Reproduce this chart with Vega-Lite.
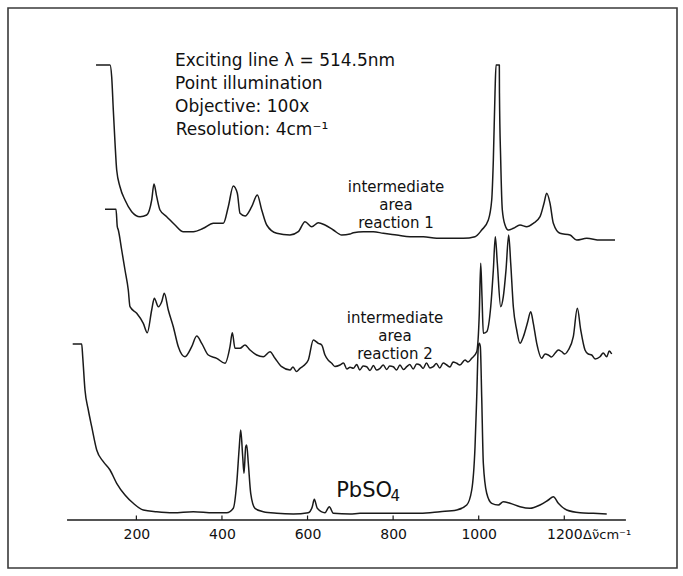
{
  "$schema": "https://vega.github.io/schema/vega-lite/v6.json",
  "width": 669,
  "height": 560,
  "autosize": {"type": "none"},
  "padding": {"left": 8, "top": 8, "right": 6, "bottom": 8},
  "background": "#ffffff",
  "config": {
    "view": {"stroke": "#3a3a3a", "strokeWidth": 1.6},
    "text": {"font": "DejaVu Sans", "color": "#111111"}
  },
  "datasets": {
    "spectra": [
      {"s":"r1","nu":105.7,"I":455},{"s":"r1","nu":138.4,"I":455},{"s":"r1","nu":142.3,"I":443.3},{"s":"r1","nu":146.1,"I":410},{"s":"r1","nu":150.1,"I":377},{"s":"r1","nu":154.0,"I":350},{"s":"r1","nu":161.7,"I":333.3},{"s":"r1","nu":173.4,"I":320},{"s":"r1","nu":189.1,"I":308.3},{"s":"r1","nu":208.5,"I":303.3},{"s":"r1","nu":224.1,"I":305},{"s":"r1","nu":235.8,"I":320},{"s":"r1","nu":241.2,"I":336},{"s":"r1","nu":247.5,"I":323.3},{"s":"r1","nu":255.2,"I":310},{"s":"r1","nu":270.9,"I":303.3},{"s":"r1","nu":290.3,"I":295},{"s":"r1","nu":309.7,"I":288.3},{"s":"r1","nu":333.0,"I":288.3},{"s":"r1","nu":356.4,"I":291.7},{"s":"r1","nu":379.8,"I":296.7},{"s":"r1","nu":403.2,"I":296.7},{"s":"r1","nu":414.8,"I":313.3},{"s":"r1","nu":426.5,"I":334},{"s":"r1","nu":435.9,"I":326.7},{"s":"r1","nu":442.2,"I":306.7},{"s":"r1","nu":453.9,"I":304},{"s":"r1","nu":469.5,"I":313.3},{"s":"r1","nu":482.6,"I":325},{"s":"r1","nu":492.9,"I":310},{"s":"r1","nu":504.6,"I":295},{"s":"r1","nu":528.0,"I":286.7},{"s":"r1","nu":559.0,"I":285},{"s":"r1","nu":578.4,"I":288.3},{"s":"r1","nu":594.1,"I":298.3},{"s":"r1","nu":609.7,"I":293.3},{"s":"r1","nu":625.2,"I":297.3},{"s":"r1","nu":640.8,"I":295},{"s":"r1","nu":660.2,"I":290},{"s":"r1","nu":679.8,"I":285},{"s":"r1","nu":699.3,"I":286},{"s":"r1","nu":707.0,"I":287.3},{"s":"r1","nu":730.3,"I":288.3},{"s":"r1","nu":753.7,"I":288.3},{"s":"r1","nu":777.1,"I":286.7},{"s":"r1","nu":808.4,"I":285},{"s":"r1","nu":839.5,"I":283.3},{"s":"r1","nu":870.6,"I":283.3},{"s":"r1","nu":901.9,"I":281.7},{"s":"r1","nu":933.0,"I":281.7},{"s":"r1","nu":964.0,"I":281.7},{"s":"r1","nu":991.4,"I":283.3},{"s":"r1","nu":1007.0,"I":290},{"s":"r1","nu":1022.5,"I":300},{"s":"r1","nu":1030.4,"I":320},{"s":"r1","nu":1034.2,"I":360},{"s":"r1","nu":1038.1,"I":427},{"s":"r1","nu":1040.5,"I":455},{"s":"r1","nu":1048.2,"I":455},{"s":"r1","nu":1048.5,"I":427},{"s":"r1","nu":1051.4,"I":360},{"s":"r1","nu":1055.2,"I":310},{"s":"r1","nu":1061.5,"I":295},{"s":"r1","nu":1069.2,"I":290},{"s":"r1","nu":1080.9,"I":291.7},{"s":"r1","nu":1096.5,"I":295},{"s":"r1","nu":1112.2,"I":293.3},{"s":"r1","nu":1127.6,"I":296.7},{"s":"r1","nu":1143.3,"I":303.3},{"s":"r1","nu":1152.6,"I":316.7},{"s":"r1","nu":1158.9,"I":326.7},{"s":"r1","nu":1166.7,"I":316.7},{"s":"r1","nu":1174.4,"I":296.7},{"s":"r1","nu":1190.0,"I":286.7},{"s":"r1","nu":1213.4,"I":285},{"s":"r1","nu":1229.0,"I":280},{"s":"r1","nu":1252.4,"I":281.7},{"s":"r1","nu":1283.5,"I":280},{"s":"r1","nu":1318.6,"I":280},

      {"s":"r2","nu":126.7,"I":310.7},{"s":"r2","nu":152.4,"I":310.7},{"s":"r2","nu":155.4,"I":293.3},{"s":"r2","nu":157.8,"I":290},{"s":"r2","nu":165.7,"I":270},{"s":"r2","nu":173.4,"I":250},{"s":"r2","nu":181.1,"I":230},{"s":"r2","nu":185.1,"I":213.3},{"s":"r2","nu":200.8,"I":206.7},{"s":"r2","nu":216.2,"I":196.7},{"s":"r2","nu":225.5,"I":187.3},{"s":"r2","nu":235.8,"I":210},{"s":"r2","nu":241.9,"I":221.7},{"s":"r2","nu":251.3,"I":213.3},{"s":"r2","nu":259.2,"I":218.3},{"s":"r2","nu":265.3,"I":226.7},{"s":"r2","nu":274.6,"I":210},{"s":"r2","nu":286.3,"I":193.3},{"s":"r2","nu":298.0,"I":173.3},{"s":"r2","nu":313.6,"I":163.3},{"s":"r2","nu":329.3,"I":173.3},{"s":"r2","nu":341.0,"I":184},{"s":"r2","nu":352.7,"I":176.7},{"s":"r2","nu":368.1,"I":165},{"s":"r2","nu":387.7,"I":161.7},{"s":"r2","nu":407.1,"I":156.7},{"s":"r2","nu":418.8,"I":173.3},{"s":"r2","nu":424.2,"I":187.3},{"s":"r2","nu":430.5,"I":171.7},{"s":"r2","nu":442.2,"I":171.7},{"s":"r2","nu":453.9,"I":175},{"s":"r2","nu":465.6,"I":170},{"s":"r2","nu":481.2,"I":165},{"s":"r2","nu":496.6,"I":163.3},{"s":"r2","nu":512.3,"I":168.3},{"s":"r2","nu":524.0,"I":161.7},{"s":"r2","nu":539.6,"I":153.3},{"s":"r2","nu":559.0,"I":150},{"s":"r2","nu":566.0,"I":153},{"s":"r2","nu":574.0,"I":148.5},{"s":"r2","nu":582.4,"I":151.7},{"s":"r2","nu":590.0,"I":154},{"s":"r2","nu":601.8,"I":160},{"s":"r2","nu":613.5,"I":180},{"s":"r2","nu":625.2,"I":176.7},{"s":"r2","nu":633.1,"I":175},{"s":"r2","nu":640.8,"I":165},{"s":"r2","nu":648.0,"I":160},{"s":"r2","nu":656.5,"I":156.7},{"s":"r2","nu":664.0,"I":153.5},{"s":"r2","nu":675.9,"I":155},{"s":"r2","nu":684.0,"I":157},{"s":"r2","nu":692.0,"I":151},{"s":"r2","nu":699.3,"I":152.7},{"s":"r2","nu":707.0,"I":151.7},{"s":"r2","nu":715.0,"I":155.5},{"s":"r2","nu":722.0,"I":150},{"s":"r2","nu":730.0,"I":154},{"s":"r2","nu":738.3,"I":153.3},{"s":"r2","nu":746.0,"I":149.5},{"s":"r2","nu":754.0,"I":154.5},{"s":"r2","nu":761.0,"I":150},{"s":"r2","nu":769.4,"I":151.7},{"s":"r2","nu":777.0,"I":155},{"s":"r2","nu":785.0,"I":150.5},{"s":"r2","nu":792.0,"I":154},{"s":"r2","nu":800.4,"I":153.3},{"s":"r2","nu":808.0,"I":150},{"s":"r2","nu":816.0,"I":155},{"s":"r2","nu":824.0,"I":150.5},{"s":"r2","nu":831.8,"I":153.3},{"s":"r2","nu":839.0,"I":155.5},{"s":"r2","nu":847.0,"I":151},{"s":"r2","nu":855.0,"I":156},{"s":"r2","nu":862.8,"I":155},{"s":"r2","nu":870.0,"I":151.5},{"s":"r2","nu":878.0,"I":157},{"s":"r2","nu":886.0,"I":152},{"s":"r2","nu":893.9,"I":153.3},{"s":"r2","nu":901.0,"I":156.5},{"s":"r2","nu":909.0,"I":152},{"s":"r2","nu":917.0,"I":157},{"s":"r2","nu":925.2,"I":155},{"s":"r2","nu":933.0,"I":153},{"s":"r2","nu":940.0,"I":158},{"s":"r2","nu":948.6,"I":156.7},{"s":"r2","nu":956.0,"I":155},{"s":"r2","nu":968.0,"I":160},{"s":"r2","nu":975.0,"I":158},{"s":"r2","nu":983.7,"I":161.7},{"s":"r2","nu":995.4,"I":168.3},{"s":"r2","nu":1001.4,"I":206.7},{"s":"r2","nu":1004.7,"I":256.7},{"s":"r2","nu":1007.7,"I":223.3},{"s":"r2","nu":1010.8,"I":186.7},{"s":"r2","nu":1018.7,"I":188.3},{"s":"r2","nu":1028.1,"I":213.3},{"s":"r2","nu":1034.2,"I":250},{"s":"r2","nu":1038.8,"I":283.3},{"s":"r2","nu":1043.5,"I":256.7},{"s":"r2","nu":1051.4,"I":213.3},{"s":"r2","nu":1057.5,"I":223.3},{"s":"r2","nu":1063.8,"I":250},{"s":"r2","nu":1070.1,"I":285},{"s":"r2","nu":1074.8,"I":256.7},{"s":"r2","nu":1080.9,"I":213.3},{"s":"r2","nu":1088.8,"I":190},{"s":"r2","nu":1096.5,"I":176.7},{"s":"r2","nu":1104.3,"I":183.3},{"s":"r2","nu":1113.6,"I":196.7},{"s":"r2","nu":1121.6,"I":208.3},{"s":"r2","nu":1127.6,"I":196.7},{"s":"r2","nu":1135.6,"I":176.7},{"s":"r2","nu":1147.3,"I":161.7},{"s":"r2","nu":1155.0,"I":166},{"s":"r2","nu":1162.7,"I":165},{"s":"r2","nu":1170.0,"I":163},{"s":"r2","nu":1178.3,"I":166.7},{"s":"r2","nu":1186.0,"I":170},{"s":"r2","nu":1194.0,"I":168.3},{"s":"r2","nu":1201.0,"I":166},{"s":"r2","nu":1209.4,"I":170},{"s":"r2","nu":1221.1,"I":183.3},{"s":"r2","nu":1230.5,"I":211.7},{"s":"r2","nu":1238.4,"I":190},{"s":"r2","nu":1248.4,"I":170},{"s":"r2","nu":1256.0,"I":166},{"s":"r2","nu":1264.1,"I":165},{"s":"r2","nu":1272.0,"I":161},{"s":"r2","nu":1283.5,"I":163.3},{"s":"r2","nu":1291.0,"I":167},{"s":"r2","nu":1299.2,"I":163.3},{"s":"r2","nu":1305.0,"I":169},{"s":"r2","nu":1310.8,"I":166},

      {"s":"pb","nu":51.2,"I":176},{"s":"pb","nu":72.2,"I":176},{"s":"pb","nu":74.6,"I":163.3},{"s":"pb","nu":79.9,"I":130},{"s":"pb","nu":87.7,"I":110},{"s":"pb","nu":95.6,"I":93.3},{"s":"pb","nu":107.3,"I":70},{"s":"pb","nu":122.7,"I":58.3},{"s":"pb","nu":138.4,"I":50},{"s":"pb","nu":154.0,"I":36.7},{"s":"pb","nu":173.4,"I":25},{"s":"pb","nu":192.8,"I":16.7},{"s":"pb","nu":216.2,"I":10},{"s":"pb","nu":247.5,"I":8.3},{"s":"pb","nu":286.3,"I":7.3},{"s":"pb","nu":333.0,"I":8.3},{"s":"pb","nu":379.8,"I":7.3},{"s":"pb","nu":411.1,"I":7.3},{"s":"pb","nu":426.5,"I":11.7},{"s":"pb","nu":434.5,"I":36.7},{"s":"pb","nu":440.5,"I":73.3},{"s":"pb","nu":443.8,"I":90},{"s":"pb","nu":448.5,"I":63.3},{"s":"pb","nu":451.5,"I":46.7},{"s":"pb","nu":455.5,"I":73.3},{"s":"pb","nu":457.8,"I":75},{"s":"pb","nu":461.6,"I":56.7},{"s":"pb","nu":467.2,"I":26.7},{"s":"pb","nu":477.2,"I":11.7},{"s":"pb","nu":496.6,"I":8.3},{"s":"pb","nu":528.0,"I":6.7},{"s":"pb","nu":566.8,"I":6},{"s":"pb","nu":601.8,"I":7.3},{"s":"pb","nu":611.1,"I":13.3},{"s":"pb","nu":615.8,"I":20.7},{"s":"pb","nu":622.8,"I":11.7},{"s":"pb","nu":640.8,"I":7.3},{"s":"pb","nu":650.9,"I":13.3},{"s":"pb","nu":660.2,"I":6.7},{"s":"pb","nu":699.3,"I":6},{"s":"pb","nu":722.6,"I":6.7},{"s":"pb","nu":769.4,"I":6.7},{"s":"pb","nu":816.1,"I":6.7},{"s":"pb","nu":862.8,"I":6.7},{"s":"pb","nu":909.6,"I":8.3},{"s":"pb","nu":948.6,"I":10},{"s":"pb","nu":972.0,"I":15},{"s":"pb","nu":983.7,"I":30},{"s":"pb","nu":991.4,"I":73.3},{"s":"pb","nu":995.4,"I":123.3},{"s":"pb","nu":999.1,"I":173.3},{"s":"pb","nu":1001.4,"I":176.7},{"s":"pb","nu":1003.8,"I":173.3},{"s":"pb","nu":1007.0,"I":123.3},{"s":"pb","nu":1010.8,"I":56.7},{"s":"pb","nu":1018.7,"I":26.7},{"s":"pb","nu":1030.4,"I":16.7},{"s":"pb","nu":1045.8,"I":15},{"s":"pb","nu":1057.5,"I":18.3},{"s":"pb","nu":1073.2,"I":16.7},{"s":"pb","nu":1096.5,"I":13.3},{"s":"pb","nu":1119.9,"I":11.7},{"s":"pb","nu":1143.3,"I":15},{"s":"pb","nu":1162.7,"I":20},{"s":"pb","nu":1174.4,"I":23.3},{"s":"pb","nu":1186.1,"I":16.7},{"s":"pb","nu":1205.7,"I":10},{"s":"pb","nu":1236.8,"I":7.3},{"s":"pb","nu":1267.9,"I":6.7},{"s":"pb","nu":1299.2,"I":6}
    ],
    "baseline": [{"nu": 38, "nu2": 1344, "I": 0}],
    "ticks": [{"nu": 200}, {"nu": 400}, {"nu": 600}, {"nu": 800}, {"nu": 1000}, {"nu": 1200}],
    "notes": [
      {"text": "Exciting line λ = 514.5nm", "nu": 290.3, "I": 454.5},
      {"text": "Point illumination", "nu": 290.3, "I": 431},
      {"text": "Objective: 100x", "nu": 290.3, "I": 408.5},
      {"text": "Resolution: 4cm⁻¹", "nu": 292, "I": 385.5}
    ],
    "labels": [
      {"text": "intermediate\narea\nreaction 1", "nu": 806.7, "I": 328},
      {"text": "intermediate\narea\nreaction 2", "nu": 804.4, "I": 197}
    ],
    "compound": [{"text": "PbSO", "nu": 667, "I": 23}],
    "subscript": [{"text": "4", "nu": 794, "I": 19}],
    "unit": [{"text": "Δν̃cm⁻¹", "nu": 1244, "I": -19}]
  },
  "layer": [
    {
      "data": {"name": "spectra"},
      "mark": {"type": "line", "color": "#1a1a1a", "strokeWidth": 1.5, "strokeJoin": "round", "interpolate": "monotone"},
      "encoding": {
        "x": {"field": "nu", "type": "quantitative", "scale": {"domain": [-100, 1463.4], "nice": false, "zero": false},
              "axis": {"domain": false, "ticks": false, "grid": false, "values": [200, 400, 600, 800, 1000, 1200], "format": "d", "labelFont": "DejaVu Sans", "labelFontSize": 14, "labelColor": "#111111", "labelPadding": 7.5, "offset": -48, "title": null, "labelFlush": false, "labelOverlap": false}},
        "y": {"field": "I", "type": "quantitative", "scale": {"domain": [-48, 512], "nice": false, "zero": false}, "axis": null},
        "detail": {"field": "s", "type": "nominal"}
      }
    },
    {
      "data": {"name": "baseline"},
      "mark": {"type": "rule", "color": "#1a1a1a", "strokeWidth": 1.5},
      "encoding": {
        "x": {"field": "nu", "type": "quantitative", "scale": {"domain": [-100, 1463.4], "nice": false, "zero": false},
              "axis": {"domain": false, "ticks": false, "grid": false, "values": [200, 400, 600, 800, 1000, 1200], "format": "d", "labelFont": "DejaVu Sans", "labelFontSize": 14, "labelColor": "#111111", "labelPadding": 7.5, "offset": -48, "title": null, "labelFlush": false, "labelOverlap": false}},
        "x2": {"field": "nu2"},
        "y": {"field": "I", "type": "quantitative", "scale": {"domain": [-48, 512], "nice": false, "zero": false}, "axis": null}
      }
    },
    {
      "data": {"name": "ticks"},
      "mark": {"type": "rule", "color": "#1a1a1a", "strokeWidth": 1.2},
      "encoding": {
        "x": {"field": "nu", "type": "quantitative", "scale": {"domain": [-100, 1463.4], "nice": false, "zero": false},
              "axis": {"domain": false, "ticks": false, "grid": false, "values": [200, 400, 600, 800, 1000, 1200], "format": "d", "labelFont": "DejaVu Sans", "labelFontSize": 14, "labelColor": "#111111", "labelPadding": 7.5, "offset": -48, "title": null, "labelFlush": false, "labelOverlap": false}},
        "y": {"datum": 0, "type": "quantitative", "scale": {"domain": [-48, 512], "nice": false, "zero": false}, "axis": null},
        "y2": {"datum": 4.5}
      }
    },
    {
      "data": {"name": "notes"},
      "mark": {"type": "text", "align": "left", "baseline": "alphabetic", "fontSize": 17, "color": "#111111"},
      "encoding": {
        "x": {"field": "nu", "type": "quantitative", "scale": {"domain": [-100, 1463.4], "nice": false, "zero": false},
              "axis": {"domain": false, "ticks": false, "grid": false, "values": [200, 400, 600, 800, 1000, 1200], "format": "d", "labelFont": "DejaVu Sans", "labelFontSize": 14, "labelColor": "#111111", "labelPadding": 7.5, "offset": -48, "title": null, "labelFlush": false, "labelOverlap": false}},
        "y": {"field": "I", "type": "quantitative", "scale": {"domain": [-48, 512], "nice": false, "zero": false}, "axis": null},
        "text": {"field": "text"}
      }
    },
    {
      "data": {"name": "labels"},
      "mark": {"type": "text", "align": "center", "baseline": "alphabetic", "fontSize": 15, "lineHeight": 18, "lineBreak": "\n", "color": "#111111"},
      "encoding": {
        "x": {"field": "nu", "type": "quantitative", "scale": {"domain": [-100, 1463.4], "nice": false, "zero": false},
              "axis": {"domain": false, "ticks": false, "grid": false, "values": [200, 400, 600, 800, 1000, 1200], "format": "d", "labelFont": "DejaVu Sans", "labelFontSize": 14, "labelColor": "#111111", "labelPadding": 7.5, "offset": -48, "title": null, "labelFlush": false, "labelOverlap": false}},
        "y": {"field": "I", "type": "quantitative", "scale": {"domain": [-48, 512], "nice": false, "zero": false}, "axis": null},
        "text": {"field": "text"}
      }
    },
    {
      "data": {"name": "compound"},
      "mark": {"type": "text", "align": "left", "baseline": "alphabetic", "fontSize": 21, "color": "#111111"},
      "encoding": {
        "x": {"field": "nu", "type": "quantitative", "scale": {"domain": [-100, 1463.4], "nice": false, "zero": false},
              "axis": {"domain": false, "ticks": false, "grid": false, "values": [200, 400, 600, 800, 1000, 1200], "format": "d", "labelFont": "DejaVu Sans", "labelFontSize": 14, "labelColor": "#111111", "labelPadding": 7.5, "offset": -48, "title": null, "labelFlush": false, "labelOverlap": false}},
        "y": {"field": "I", "type": "quantitative", "scale": {"domain": [-48, 512], "nice": false, "zero": false}, "axis": null},
        "text": {"field": "text"}
      }
    },
    {
      "data": {"name": "subscript"},
      "mark": {"type": "text", "align": "left", "baseline": "alphabetic", "fontSize": 15, "color": "#111111"},
      "encoding": {
        "x": {"field": "nu", "type": "quantitative", "scale": {"domain": [-100, 1463.4], "nice": false, "zero": false},
              "axis": {"domain": false, "ticks": false, "grid": false, "values": [200, 400, 600, 800, 1000, 1200], "format": "d", "labelFont": "DejaVu Sans", "labelFontSize": 14, "labelColor": "#111111", "labelPadding": 7.5, "offset": -48, "title": null, "labelFlush": false, "labelOverlap": false}},
        "y": {"field": "I", "type": "quantitative", "scale": {"domain": [-48, 512], "nice": false, "zero": false}, "axis": null},
        "text": {"field": "text"}
      }
    },
    {
      "data": {"name": "unit"},
      "mark": {"type": "text", "align": "left", "baseline": "alphabetic", "fontSize": 13, "color": "#111111"},
      "encoding": {
        "x": {"field": "nu", "type": "quantitative", "scale": {"domain": [-100, 1463.4], "nice": false, "zero": false},
              "axis": {"domain": false, "ticks": false, "grid": false, "values": [200, 400, 600, 800, 1000, 1200], "format": "d", "labelFont": "DejaVu Sans", "labelFontSize": 14, "labelColor": "#111111", "labelPadding": 7.5, "offset": -48, "title": null, "labelFlush": false, "labelOverlap": false}},
        "y": {"field": "I", "type": "quantitative", "scale": {"domain": [-48, 512], "nice": false, "zero": false}, "axis": null},
        "text": {"field": "text"}
      }
    }
  ]
}
